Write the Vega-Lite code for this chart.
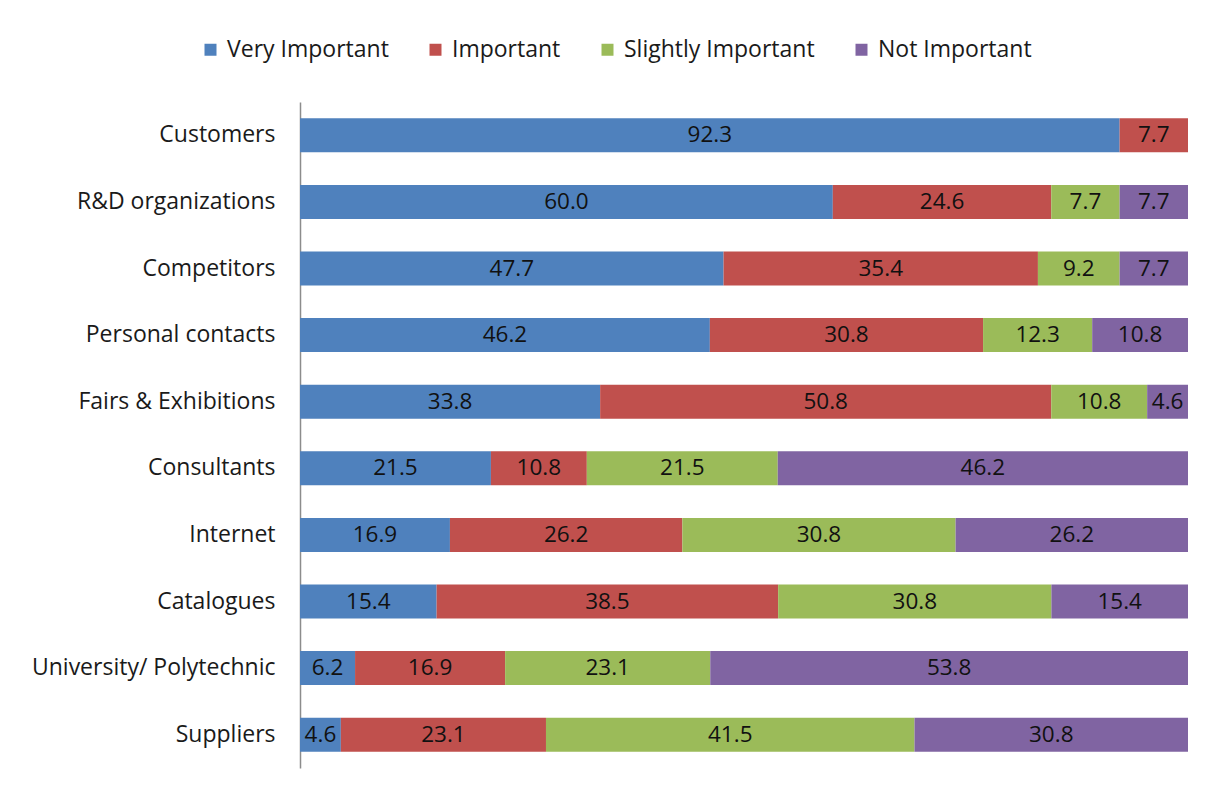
{
  "$schema": "https://vega.github.io/schema/vega-lite/v6.json",
  "autosize": "none",
  "width": 888,
  "height": 666,
  "padding": {"left": 300, "top": 102, "right": 29, "bottom": 24},
  "background": "white",
  "config": {
    "view": {"stroke": null},
    "font": "Open Sans"
  },
  "data": {
    "values": [
      {"source": "Customers", "level": "Very Important", "value": 92.3},
      {"source": "Customers", "level": "Important", "value": 7.7},
      {"source": "R&D organizations", "level": "Very Important", "value": 60.0},
      {"source": "R&D organizations", "level": "Important", "value": 24.6},
      {"source": "R&D organizations", "level": "Slightly Important", "value": 7.7},
      {"source": "R&D organizations", "level": "Not Important", "value": 7.7},
      {"source": "Competitors", "level": "Very Important", "value": 47.7},
      {"source": "Competitors", "level": "Important", "value": 35.4},
      {"source": "Competitors", "level": "Slightly Important", "value": 9.2},
      {"source": "Competitors", "level": "Not Important", "value": 7.7},
      {"source": "Personal contacts", "level": "Very Important", "value": 46.2},
      {"source": "Personal contacts", "level": "Important", "value": 30.8},
      {"source": "Personal contacts", "level": "Slightly Important", "value": 12.3},
      {"source": "Personal contacts", "level": "Not Important", "value": 10.8},
      {"source": "Fairs & Exhibitions", "level": "Very Important", "value": 33.8},
      {"source": "Fairs & Exhibitions", "level": "Important", "value": 50.8},
      {"source": "Fairs & Exhibitions", "level": "Slightly Important", "value": 10.8},
      {"source": "Fairs & Exhibitions", "level": "Not Important", "value": 4.6},
      {"source": "Consultants", "level": "Very Important", "value": 21.5},
      {"source": "Consultants", "level": "Important", "value": 10.8},
      {"source": "Consultants", "level": "Slightly Important", "value": 21.5},
      {"source": "Consultants", "level": "Not Important", "value": 46.2},
      {"source": "Internet", "level": "Very Important", "value": 16.9},
      {"source": "Internet", "level": "Important", "value": 26.2},
      {"source": "Internet", "level": "Slightly Important", "value": 30.8},
      {"source": "Internet", "level": "Not Important", "value": 26.2},
      {"source": "Catalogues", "level": "Very Important", "value": 15.4},
      {"source": "Catalogues", "level": "Important", "value": 38.5},
      {"source": "Catalogues", "level": "Slightly Important", "value": 30.8},
      {"source": "Catalogues", "level": "Not Important", "value": 15.4},
      {"source": "University/ Polytechnic", "level": "Very Important", "value": 6.2},
      {"source": "University/ Polytechnic", "level": "Important", "value": 16.9},
      {"source": "University/ Polytechnic", "level": "Slightly Important", "value": 23.1},
      {"source": "University/ Polytechnic", "level": "Not Important", "value": 53.8},
      {"source": "Suppliers", "level": "Very Important", "value": 4.6},
      {"source": "Suppliers", "level": "Important", "value": 23.1},
      {"source": "Suppliers", "level": "Slightly Important", "value": 41.5},
      {"source": "Suppliers", "level": "Not Important", "value": 30.8}
    ]
  },
  "transform": [
    {"calculate": "indexof(['Very Important','Important','Slightly Important','Not Important'], datum.level)", "as": "rank"},
    {"stack": "value", "groupby": ["source"], "sort": [{"field": "rank", "order": "ascending"}], "offset": "normalize", "as": ["x0", "x1"]},
    {"calculate": "(datum.x0 + datum.x1) / 2", "as": "xm"}
  ],
  "encoding": {
    "y": {
      "field": "source",
      "type": "nominal",
      "sort": ["Customers", "R&D organizations", "Competitors", "Personal contacts", "Fairs & Exhibitions", "Consultants", "Internet", "Catalogues", "University/ Polytechnic", "Suppliers"],
      "scale": {"paddingInner": 0.49, "paddingOuter": 0.245},
      "axis": {
        "title": null,
        "ticks": false,
        "tickSize": 0,
        "labelPadding": 25,
        "labelFontSize": 23,
        "labelColor": "#1a1a1a",
        "labelFont": "Open Sans",
        "labelLimit": 0,
        "domainColor": "#8c8c8c",
        "domainWidth": 1.5
      }
    }
  },
  "layer": [
    {
      "mark": {"type": "bar"},
      "encoding": {
        "x": {"field": "x0", "type": "quantitative", "scale": {"domain": [0, 1], "nice": false, "zero": true}, "axis": null},
        "x2": {"field": "x1"},
        "color": {
          "field": "level",
          "type": "nominal",
          "scale": {
            "domain": ["Very Important", "Important", "Slightly Important", "Not Important"],
            "range": ["#4F81BD", "#C0504D", "#9BBB59", "#8064A2"]
          },
          "legend": {
            "title": null,
            "orient": "none",
            "legendX": -101,
            "legendY": -64,
            "direction": "horizontal",
            "symbolType": "square",
            "symbolSize": 144,
            "symbolStrokeWidth": 0,
            "labelFontSize": 23,
            "labelFont": "Open Sans",
            "labelColor": "#1a1a1a",
            "labelOffset": 5,
            "labelLimit": 0,
            "columnPadding": 35,
            "padding": 0
          }
        }
      }
    },
    {
      "mark": {"type": "text", "fontSize": 22.5, "font": "Open Sans", "color": "#111111", "baseline": "middle", "align": "center"},
      "encoding": {
        "x": {"field": "xm", "type": "quantitative"},
        "text": {"field": "value", "type": "quantitative", "format": ".1f"}
      }
    }
  ]
}
